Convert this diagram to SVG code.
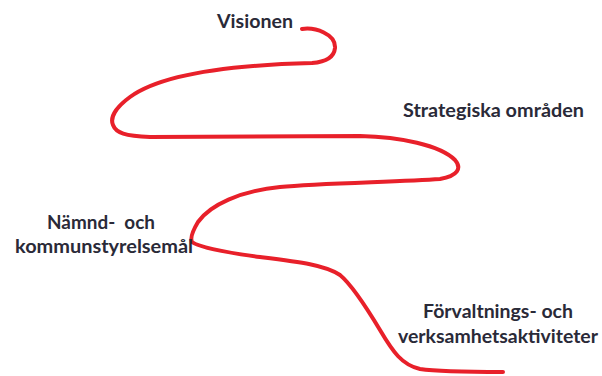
<svg xmlns="http://www.w3.org/2000/svg" width="602" height="376" viewBox="0 0 602 376">
<style>
.lbl{font-family:Lato,"Open Sans","Liberation Sans",sans-serif;font-weight:bold;font-size:18px;fill:#2a2a38}
.road{fill:none;stroke:#e8202a;stroke-width:4;stroke-linecap:round;stroke-linejoin:round}
</style>
<rect width="602" height="376" fill="#ffffff"/>
<g id="connectors">
<path class="road" d="M302,29 C315,27 336,34 335,48 C334,58 325,62 312,63 C230,65 160,75 130,97 C115,108 110,118 113,125 C116,133 125,136 150,137 L360,136 C400,137 440,145 455,160 C462,168 458,176 440,179 C400,182 320,183 280,187 C240,191 210,205 198,222 C192,232 190,238 192,242 C200,248 230,253 260,257 C300,262 325,265 340,275 C352,285 365,305 380,330 C393,352 402,365 420,369 C440,372 480,372 503,372"/>
</g>
<g id="visionen"><text class="lbl" x="217" y="28" textLength="76" lengthAdjust="spacingAndGlyphs">Visionen</text></g>
<g id="strategiska"><text class="lbl" x="403" y="117" textLength="181" lengthAdjust="spacingAndGlyphs">Strategiska områden</text></g>
<g id="namnd">
<text class="lbl" x="47" y="229" textLength="108" lengthAdjust="spacingAndGlyphs" xml:space="preserve">Nämnd-  och</text>
<text class="lbl" x="15" y="253" textLength="178" lengthAdjust="spacingAndGlyphs">kommunstyrelsemål</text>
</g>
<g id="forvaltning">
<text class="lbl" x="423" y="318" textLength="150" lengthAdjust="spacingAndGlyphs">Förvaltnings- och</text>
<text class="lbl" x="398" y="343" textLength="200" lengthAdjust="spacingAndGlyphs">verksamhetsaktiviteter</text>
</g>
</svg>
